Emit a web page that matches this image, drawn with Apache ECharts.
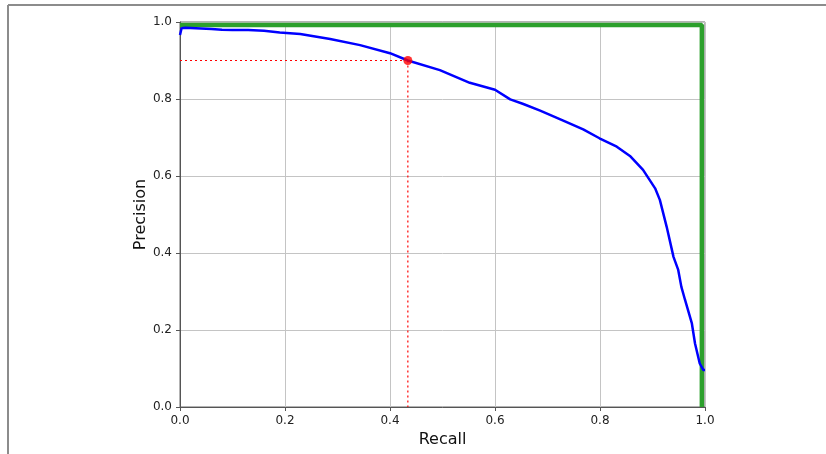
<!DOCTYPE html>
<html>
<head>
<meta charset="utf-8">
<script src="https://cdn.jsdelivr.net/npm/echarts@6/dist/echarts.min.js"></script>
<style>
  html, body { margin: 0; padding: 0; background: #fff; }
  .main { width: 826px; height: 454px; }
</style>
</head>
<body>
<div class="main" id="main"></div>
<script>
var recallPts = [0, 0.003, 0.01, 0.03, 0.06, 0.08, 0.1, 0.13, 0.16, 0.19, 0.229, 0.286, 0.343,
  0.4, 0.434, 0.495, 0.552, 0.6, 0.629, 0.654, 0.686, 0.73, 0.768, 0.799, 0.832, 0.857,
  0.882, 0.905, 0.914, 0.927, 0.94, 0.949, 0.955, 0.962, 0.975, 0.981, 0.99, 0.997, 1.0];
var precisionPts = [0.966, 0.984, 0.985, 0.984, 0.982, 0.98, 0.979, 0.979, 0.977, 0.973, 0.969, 0.956, 0.940,
  0.919, 0.9, 0.875, 0.842, 0.824, 0.799, 0.787, 0.770, 0.744, 0.721, 0.698, 0.676, 0.652,
  0.616, 0.568, 0.538, 0.468, 0.39, 0.356, 0.312, 0.278, 0.217, 0.165, 0.113, 0.096, 0.096];

// perfect classifier curve (green)
var perfectRecall = [0, 0.994, 0.994];
var perfectPrecision = [0.992, 0.992, 0];

// threshold point for 90% precision
var pointRecall = 0.434;
var pointPrecision = 0.9;

var tickValues = [0, 0.2, 0.4, 0.6, 0.8, 1.0];

function zip(a, b) {
  var out = [];
  for (var i = 0; i < a.length; i++) out.push([a[i], b[i]]);
  return out;
}

var font = 'DejaVu Sans';
var chart = echarts.init(document.getElementById('main'));

function axisCommon(name, gap) {
  return {
    type: 'value',
    min: tickValues[0],
    max: tickValues[tickValues.length - 1],
    interval: 0.2,
    name: name,
    nameLocation: 'middle',
    nameGap: gap,
    nameMoveOverlap: false,
    nameTextStyle: { fontFamily: font, fontSize: 16, color: '#111' },
    axisLine: { show: true, lineStyle: { color: '#555', width: 1 } },
    axisTick: { show: true, inside: false, length: 4, lineStyle: { color: '#555' } },
    axisLabel: {
      fontFamily: font, fontSize: 12, color: '#222', margin: 8,
      formatter: function (v) { return v.toFixed(1); }
    },
    splitLine: { show: true, lineStyle: { color: '#c4c4c4', width: 1 } }
  };
}

var option = {
  animation: false,
  backgroundColor: '#fff',
  grid: {
    left: 180, right: 121, top: 22, bottom: 47,
    show: true, borderColor: '#666', borderWidth: 1
  },
  xAxis: axisCommon('Recall', 25),
  yAxis: axisCommon('Precision', 31),
  graphic: [
    { type: 'line', shape: { x1: 8, y1: 5, x2: 826, y2: 5 }, style: { stroke: '#8c8c8c', lineWidth: 2 } },
    { type: 'line', shape: { x1: 8, y1: 5, x2: 8, y2: 454 }, style: { stroke: '#8c8c8c', lineWidth: 2 } }
  ],
  series: [
    {
      type: 'line',
      data: [[0, pointPrecision], [pointRecall, pointPrecision]],
      symbol: 'none',
      lineStyle: { color: '#ff0000', width: 1.2, type: [2, 3] },
      z: 2
    },
    {
      type: 'line',
      data: [[pointRecall, pointPrecision], [pointRecall, 0]],
      symbol: 'none',
      lineStyle: { color: '#ff0000', width: 1.2, type: [2, 3] },
      z: 2
    },
    {
      type: 'line',
      data: zip(perfectRecall, perfectPrecision),
      symbol: 'none',
      lineStyle: { color: '#2ca02c', width: 4.5 },
      z: 3
    },
    {
      type: 'line',
      data: zip(recallPts, precisionPts),
      symbol: 'none',
      lineStyle: { color: '#0000ff', width: 2.5 },
      z: 4
    },
    {
      type: 'scatter',
      data: [[pointRecall, pointPrecision]],
      symbolSize: 9,
      itemStyle: { color: '#ff0000' },
      z: 5
    }
  ]
};

chart.setOption(option);
</script>
</body>
</html>
